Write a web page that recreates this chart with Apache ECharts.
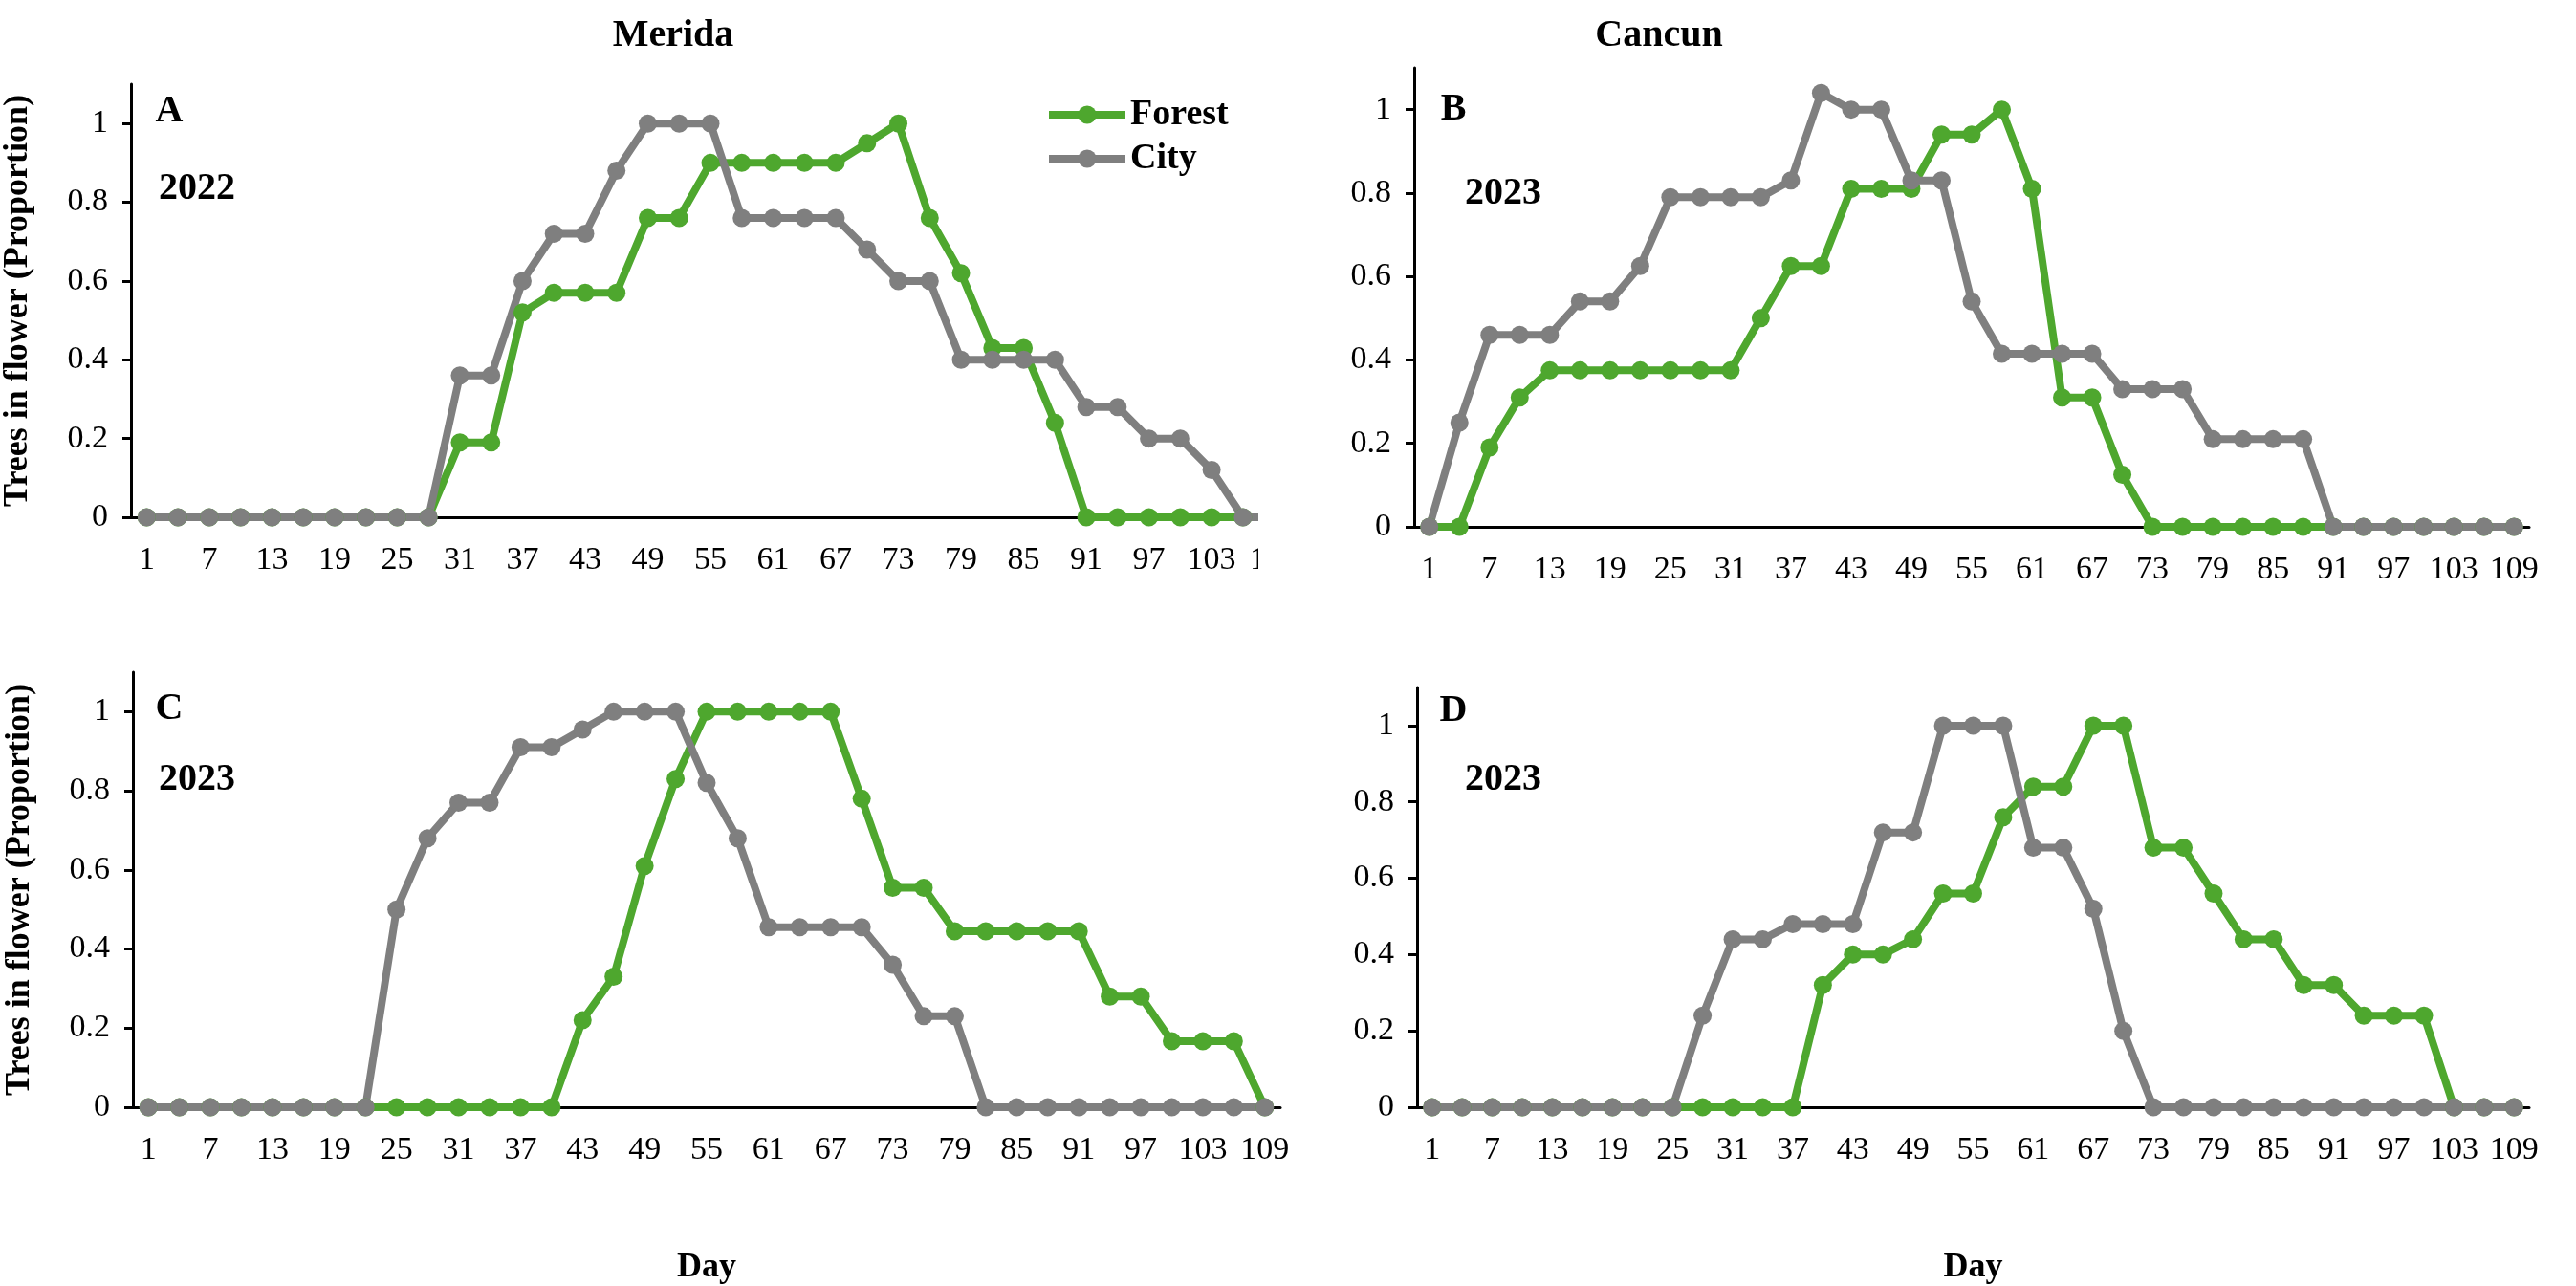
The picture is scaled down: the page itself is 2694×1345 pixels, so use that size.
<!DOCTYPE html>
<html>
<head>
<meta charset="utf-8">
<title>Trees in flower</title>
<script src="https://cdn.jsdelivr.net/npm/echarts@6.0.0/dist/echarts.min.js"></script>
<style>
html, body { margin: 0; padding: 0; background: #fff; }
#page { position: relative; width: 2694px; height: 1345px; overflow: hidden; }
.layer { position: absolute; left: 0; top: 0; width: 2694px; height: 1345px; }
/* panel A is cut off on the right in the original figure */
#clipA { position: absolute; left: 0; top: 0; width: 1316px; height: 660px; overflow: hidden; }
</style>
</head>
<body>
<div id="page">
  <div id="clipA"><div id="chartA" class="layer"></div></div>
  <div id="chartB" class="layer"></div>
  <div id="chartC" class="layer"></div>
  <div id="chartD" class="layer"></div>
</div>
<script>
// days of observation (every 3 days)
var days = ['1','4','7','10','13','16','19','22','25','28','31','34','37','40','43','46','49','52','55',
            '58','61','64','67','70','73','76','79','82','85','88','91','94','97','100','103','106','109'];
var yTicks = [0, 0.2, 0.4, 0.6, 0.8, 1];

// A - Merida 2022
var forestA = [0,0,0,0,0,0,0,0,0,0, 0.19,0.19,0.52,0.57,0.57,0.57,0.76,0.76,0.90,0.90,0.90,0.90,0.90,0.95,1.0,
               0.76,0.62,0.43,0.43,0.24,0,0,0,0,0,0,0];
var cityA   = [0,0,0,0,0,0,0,0,0,0, 0.36,0.36,0.60,0.72,0.72,0.88,1.0,1.0,1.0,0.76,0.76,0.76,0.76,0.68,0.60,
               0.60,0.40,0.40,0.40,0.40,0.28,0.28,0.20,0.20,0.12,0,0];
// B - Cancun 2023
var forestB = [0,0,0.19,0.31,0.375,0.375,0.375,0.375,0.375,0.375,0.375,0.50,0.625,0.625,0.81,0.81,0.81,0.94,0.94,
               1.0,0.81,0.31,0.31,0.125,0,0,0,0,0,0,0,0,0,0,0,0,0];
var cityB   = [0,0.25,0.46,0.46,0.46,0.54,0.54,0.625,0.79,0.79,0.79,0.79,0.83,1.04,1.0,1.0,0.83,0.83,0.54,
               0.415,0.415,0.415,0.415,0.33,0.33,0.33,0.21,0.21,0.21,0.21,0,0,0,0,0,0,0];
// C - Merida 2023
var forestC = [0,0,0,0,0,0,0,0,0,0,0,0,0,0, 0.22,0.33,0.61,0.83,1,1,1,1,1,0.78,0.555,0.555,
               0.445,0.445,0.445,0.445,0.445,0.28,0.28,0.167,0.167,0.167,0];
var cityC   = [0,0,0,0,0,0,0,0, 0.50,0.68,0.77,0.77,0.91,0.91,0.955,1,1,1,0.82,0.68,0.455,0.455,0.455,0.455,
               0.36,0.23,0.23,0,0,0,0,0,0,0,0,0,0];
// D - Cancun 2023
var forestD = [0,0,0,0,0,0,0,0,0,0,0,0,0, 0.32,0.40,0.40,0.44,0.56,0.56,0.76,0.84,0.84,1,1,0.68,0.68,
               0.56,0.44,0.44,0.32,0.32,0.24,0.24,0.24,0,0,0];
var cityD   = [0,0,0,0,0,0,0,0,0, 0.24,0.44,0.44,0.48,0.48,0.48,0.72,0.72,1,1,1,0.68,0.68,0.52,0.20,
               0,0,0,0,0,0,0,0,0,0,0,0,0];

var FONT = '"Liberation Serif", "Times New Roman", serif';
var GREEN = '#4ea72e';
var GREY = '#7f7f7f';

function boldText(txt, x, y, size) {
    return {
        type: 'text', x: x, y: y, z: 10,
        style: {
            text: txt, fill: '#000',
            font: 'bold ' + size + 'px ' + FONT,
            align: 'center', verticalAlign: 'middle'
        }
    };
}

function lineSeries(name, data, color) {
    return {
        name: name,
        type: 'line',
        data: data,
        symbol: 'circle',
        symbolSize: 19,
        showAllSymbol: true,
        itemStyle: { color: color },
        lineStyle: { color: color, width: 8 },
        emphasis: { disabled: true }
    };
}

function panel(p) {
    var opt = {
        backgroundColor: 'transparent',
        animation: false,
        grid: { left: p.left, top: p.top, width: p.width, height: p.height },
        xAxis: {
            type: 'category',
            data: days,
            boundaryGap: true,
            name: p.xName || '',
            nameLocation: 'middle',
            nameGap: 150,
            nameTextStyle: { fontFamily: FONT, fontWeight: 'bold', fontSize: 36, color: '#000' },
            axisLine: { lineStyle: { color: '#000', width: 3 } },
            axisTick: { interval: 1, length: 10, lineStyle: { color: '#000', width: 3 } },
            axisLabel: { interval: 1, margin: 28, fontFamily: FONT, fontSize: 34, color: '#000' },
            splitLine: { show: false }
        },
        yAxis: {
            type: 'value',
            min: 0,
            max: 1.1,
            interval: 0.2,
            name: p.yName || '',
            nameLocation: 'middle',
            nameRotate: 90,
            nameGap: 100,
            nameTextStyle: { fontFamily: FONT, fontWeight: 'bold', fontSize: 36, color: '#000' },
            axisLine: { show: true, lineStyle: { color: '#000', width: 3 } },
            axisTick: { show: true, length: 9, customValues: yTicks, lineStyle: { color: '#000', width: 3 } },
            axisLabel: { margin: 24, customValues: yTicks, fontFamily: FONT, fontSize: 34, color: '#000' },
            splitLine: { show: false }
        },
        graphic: p.texts,
        series: [lineSeries('Forest', p.forest, GREEN), lineSeries('City', p.city, GREY)]
    };
    if (p.legend) {
        opt.legend = {
            orient: 'vertical',
            left: 1088,
            top: 96,
            itemWidth: 80,
            itemHeight: 24,
            itemGap: 8,
            selectedMode: false,
            lineStyle: { width: 8 },
            textStyle: { fontFamily: FONT, fontWeight: 'bold', fontSize: 38, color: '#000' },
            data: ['Forest', 'City']
        };
    }
    return opt;
}

var chartA = echarts.init(document.getElementById('chartA'));
chartA.setOption(panel({
    left: 134, top: 88, width: 1215, height: 453,
    forest: forestA, city: cityA, legend: true,
    yName: 'Trees in flower (Proportion)',
    texts: [boldText('Merida', 704, 38, 40), boldText('A', 177, 117, 40), boldText('2022', 206, 198, 40)]
}));

var chartB = echarts.init(document.getElementById('chartB'));
chartB.setOption(panel({
    left: 1479, top: 71, width: 1166, height: 480,
    forest: forestB, city: cityB,
    texts: [boldText('Cancun', 1735, 38, 40), boldText('B', 1520, 115, 40), boldText('2023', 1572, 203, 40)]
}));

var chartC = echarts.init(document.getElementById('chartC'));
chartC.setOption(panel({
    left: 139, top: 703, width: 1200, height: 469,
    forest: forestC, city: cityC,
    yName: 'Trees in flower (Proportion)', xName: 'Day',
    texts: [boldText('C', 177, 742, 40), boldText('2023', 206, 816, 40)]
}));

var chartD = echarts.init(document.getElementById('chartD'));
chartD.setOption(panel({
    left: 1482, top: 719, width: 1163, height: 453,
    forest: forestD, city: cityD,
    xName: 'Day',
    texts: [boldText('D', 1520, 744, 40), boldText('2023', 1572, 816, 40)]
}));
</script>
</body>
</html>
